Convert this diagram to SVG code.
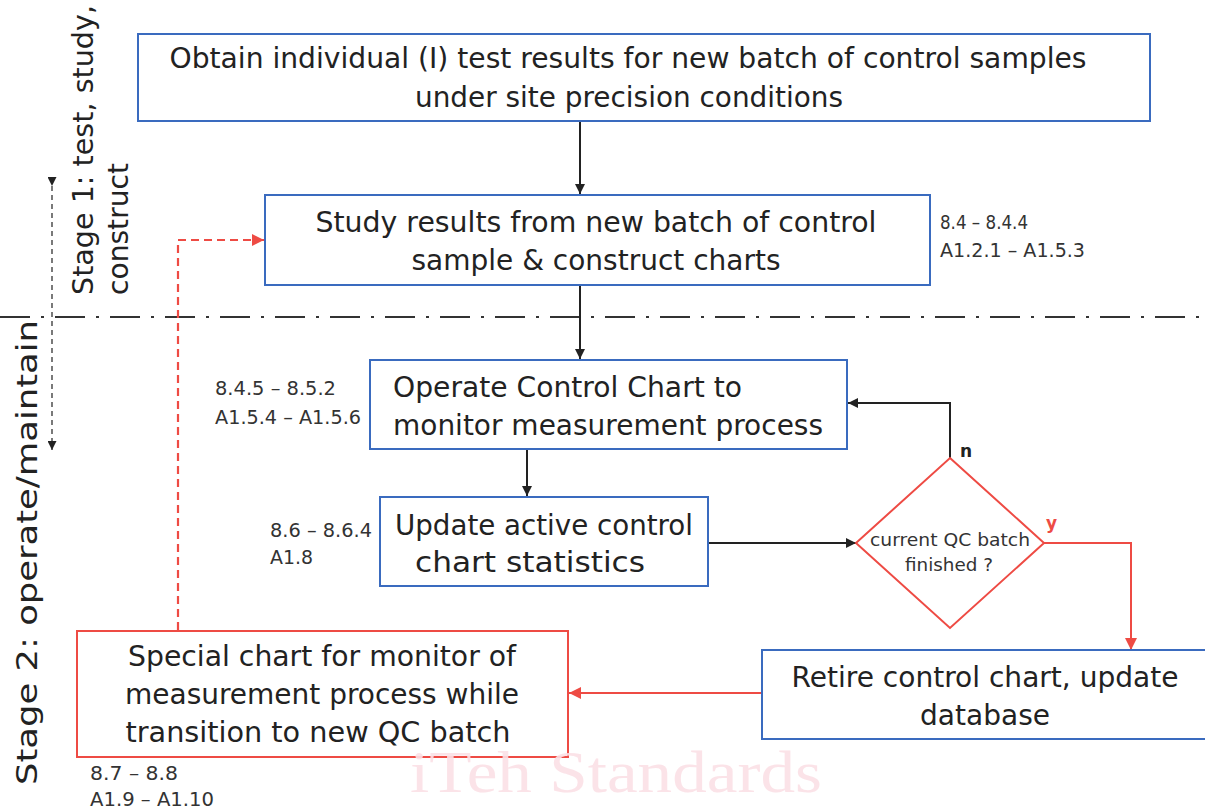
<svg xmlns="http://www.w3.org/2000/svg" width="1205" height="810" viewBox="0 0 1205 810">
<style>
  .box{fill:#fff;stroke:#3a6bbf;stroke-width:2}
  .rbox{fill:#fff;stroke:#ee4b44;stroke-width:2}
  .t{font-family:"DejaVu Sans",Verdana,sans-serif;font-size:28px;fill:#222;text-anchor:middle}
  .tl{font-family:"DejaVu Sans",Verdana,sans-serif;font-size:28px;fill:#222}
  .s{font-family:"DejaVu Sans",Verdana,sans-serif;font-size:19px;fill:#333}
  .d{font-family:"DejaVu Sans",Verdana,sans-serif;font-size:17px;fill:#333;text-anchor:middle}
  .blk{stroke:#222;stroke-width:2;fill:none}
  .red{stroke:#ee4b44;stroke-width:2;fill:none}
  .reddash{stroke:#ee4b44;stroke-width:2.2;fill:none;stroke-dasharray:8 5}
  .lbl{font-family:"DejaVu Sans",Verdana,sans-serif;font-size:17px;font-weight:bold}
</style>
<defs>
  <marker id="ab" viewBox="0 0 10 10" refX="10" refY="5" markerWidth="10" markerHeight="10" markerUnits="userSpaceOnUse" orient="auto">
    <path d="M0,0 L10,5 L0,10 z" fill="#222"/>
  </marker>
  <marker id="ar" viewBox="0 0 10 10" refX="10" refY="5" markerWidth="12" markerHeight="12" markerUnits="userSpaceOnUse" orient="auto">
    <path d="M0,0 L10,5 L0,10 z" fill="#ee4b44"/>
  </marker>
  <marker id="as" viewBox="0 0 10 10" refX="10" refY="5" markerWidth="9" markerHeight="9" markerUnits="userSpaceOnUse" orient="auto">
    <path d="M0,0 L10,5 L0,10 z" fill="#222"/>
  </marker>
</defs>

<!-- stage separators -->
<g id="stages">
  <line x1="0" y1="317" x2="1205" y2="317" stroke="#333" stroke-width="2" stroke-dasharray="30 11 3 11"/>
  <line x1="52" y1="186" x2="52" y2="450" stroke="#333" stroke-width="1.3" stroke-dasharray="5 4" marker-start="url(#as)" marker-end="url(#as)"/>
  <text class="tl" transform="translate(93,295) rotate(-90)" textLength="290" lengthAdjust="spacingAndGlyphs">Stage 1: test, study,</text>
  <text class="tl" transform="translate(128,295) rotate(-90)" textLength="132" lengthAdjust="spacingAndGlyphs">construct</text>
  <text class="tl" transform="translate(37,785) rotate(-90)" textLength="465" lengthAdjust="spacingAndGlyphs">Stage 2: operate/maintain</text>
</g>

<g id="connectors">
  <line class="blk" x1="580" y1="121" x2="580" y2="194" marker-end="url(#ab)"/>
  <line class="blk" x1="580" y1="285" x2="580" y2="359" marker-end="url(#ab)"/>
  <line class="blk" x1="527" y1="449" x2="527" y2="496" marker-end="url(#ab)"/>
  <line class="blk" x1="708" y1="543" x2="856" y2="543" marker-end="url(#ab)"/>
  <polyline class="blk" points="950,458 950,403 848,403" marker-end="url(#ab)"/>
  <polyline class="red" points="1044,543 1131,543 1131,650" marker-end="url(#ar)"/>
  <line class="red" x1="762" y1="693" x2="569" y2="693" marker-end="url(#ar)"/>
  <polyline class="reddash" points="178,630 178,240 264,240" marker-end="url(#ar)"/>
  <text class="lbl" x="960" y="457" fill="#222">n</text>
  <text class="lbl" x="1046" y="529" fill="#ee4b44">y</text>
</g>

<g id="n1">
  <rect class="box" x="138" y="34" width="1012" height="87"/>
  <text class="t" x="628" y="68" textLength="917" lengthAdjust="spacingAndGlyphs">Obtain individual (I) test results for new batch of control samples</text>
  <text class="t" x="629" y="107" textLength="428" lengthAdjust="spacingAndGlyphs">under site precision conditions</text>
</g>

<g id="n2">
  <rect class="box" x="265" y="195" width="665" height="90"/>
  <text class="t" x="596" y="232" textLength="561" lengthAdjust="spacingAndGlyphs">Study results from new batch of control</text>
  <text class="t" x="596" y="270" textLength="369" lengthAdjust="spacingAndGlyphs">sample &amp; construct charts</text>
  <text class="s" x="940" y="229" textLength="88" lengthAdjust="spacingAndGlyphs">8.4 – 8.4.4</text>
  <text class="s" x="940" y="257" textLength="145" lengthAdjust="spacingAndGlyphs">A1.2.1 – A1.5.3</text>
</g>

<g id="n3">
  <rect class="box" x="370" y="360" width="477" height="89"/>
  <text class="tl" x="393" y="397" textLength="349" lengthAdjust="spacingAndGlyphs">Operate Control Chart to</text>
  <text class="tl" x="393" y="435" textLength="430" lengthAdjust="spacingAndGlyphs">monitor measurement process</text>
  <text class="s" x="215" y="395" textLength="121" lengthAdjust="spacingAndGlyphs">8.4.5 – 8.5.2</text>
  <text class="s" x="215" y="424" textLength="146" lengthAdjust="spacingAndGlyphs">A1.5.4 – A1.5.6</text>
</g>

<g id="n4">
  <rect class="box" x="380" y="497" width="328" height="89"/>
  <text class="t" x="544" y="535" textLength="298" lengthAdjust="spacingAndGlyphs">Update active control</text>
  <text class="t" x="530" y="572" textLength="230" lengthAdjust="spacingAndGlyphs">chart statistics</text>
  <text class="s" x="270" y="537" textLength="102" lengthAdjust="spacingAndGlyphs">8.6 – 8.6.4</text>
  <text class="s" x="270" y="564" textLength="43" lengthAdjust="spacingAndGlyphs">A1.8</text>
</g>

<g id="n5">
  <polygon points="950,458 1044,543 950,628 856,543" fill="#fff" stroke="#ee4b44" stroke-width="2"/>
  <text class="d" x="950" y="546" textLength="160" lengthAdjust="spacingAndGlyphs">current QC batch</text>
  <text class="d" x="949" y="571" textLength="88" lengthAdjust="spacingAndGlyphs">finished ?</text>
</g>

<g id="n6">
  <rect class="box" x="762" y="650" width="450" height="89"/>
  <text class="t" x="985" y="687" textLength="387" lengthAdjust="spacingAndGlyphs">Retire control chart, update</text>
  <text class="t" x="985" y="725" textLength="130" lengthAdjust="spacingAndGlyphs">database</text>
</g>

<g id="n7">
  <rect class="rbox" x="77" y="631" width="491" height="126"/>
  <text class="t" x="322" y="666" textLength="388" lengthAdjust="spacingAndGlyphs">Special chart for monitor of</text>
  <text class="t" x="322" y="704" textLength="394" lengthAdjust="spacingAndGlyphs">measurement process while</text>
  <text class="t" x="318" y="742" textLength="385" lengthAdjust="spacingAndGlyphs">transition to new QC batch</text>
  <text class="s" x="90" y="780" textLength="88" lengthAdjust="spacingAndGlyphs">8.7 – 8.8</text>
  <text class="s" x="90" y="806" textLength="124" lengthAdjust="spacingAndGlyphs">A1.9 – A1.10</text>
</g>

<!-- watermark -->
<text x="616" y="792" font-family="'Liberation Serif',serif" font-size="60" fill="#fbe0e6" fill-opacity="0.9" text-anchor="middle" textLength="412" lengthAdjust="spacingAndGlyphs">iTeh Standards</text>
</svg>
